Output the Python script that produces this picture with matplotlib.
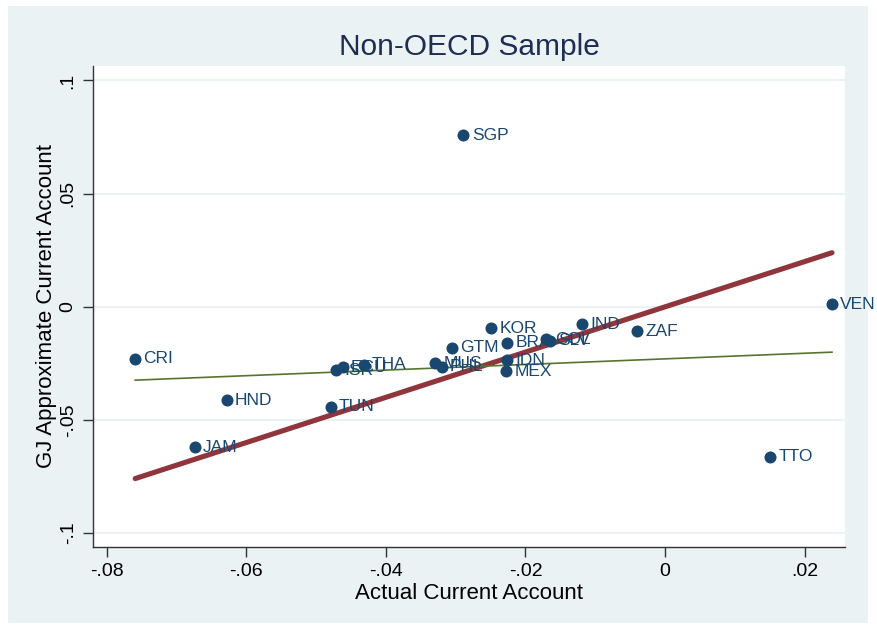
import numpy as np
import matplotlib.pyplot as plt
from matplotlib.patches import Rectangle

plt.rcParams['font.family'] = ['Liberation Sans', 'DejaVu Sans']

# country codes and values
countries = ['CRI', 'HND', 'JAM', 'TUN', 'ISR', 'ECU', 'THA', 'MUS', 'PHL', 'GTM',
             'SGP', 'KOR', 'BRA', 'IDN', 'MEX', 'COL', 'SLV', 'IND', 'ZAF', 'TTO', 'VEN']
actual_ca = [-0.0759, -0.0628, -0.0674, -0.0479, -0.0472, -0.0462, -0.0432, -0.0329,
             -0.0320, -0.0305, -0.0289, -0.0249, -0.0226, -0.0226, -0.0228, -0.0170,
             -0.0165, -0.0119, -0.0040, 0.0150, 0.0239]
gj_ca = [-0.0229, -0.0412, -0.0620, -0.0442, -0.0281, -0.0268, -0.0256, -0.0249,
         -0.0265, -0.0181, 0.0758, -0.0095, -0.0158, -0.0236, -0.0284, -0.0144,
         -0.0150, -0.0077, -0.0107, -0.0662, 0.0012]

# fitted line
fit_slope = 0.124
fit_intercept = -0.0230

xticks = [-0.08, -0.06, -0.04, -0.02, 0, 0.02]
xticklabels = ['-.08', '-.06', '-.04', '-.02', '0', '.02']
yticks = [-0.1, -0.05, 0, 0.05, 0.1]
yticklabels = ['-.1', '-.05', '0', '.05', '.1']

navy = '#1a476f'
maroon = '#90353b'
olive = '#55752f'
bg = '#eaf2f3'

W, H = 877, 628
fig = plt.figure(figsize=(W / 100, H / 100), dpi=100)
fig.patch.set_facecolor('white')
bgrect = Rectangle((8 / W, 1 - 623 / H), 860 / W, 617 / H,
                   transform=fig.transFigure, facecolor=bg,
                   edgecolor='none', zorder=-10)
fig.add_artist(bgrect)

ax = fig.add_axes([93.3 / W, 1 - 546.7 / H, (845 - 93.3) / W, (546.7 - 66) / H])
ax.set_zorder(1)
ax.set_facecolor('white')

x = np.array(actual_ca)
y = np.array(gj_ca)
xr = np.array([x.min(), x.max()])

for yt in yticks:
    ax.axhline(yt, color=bg, lw=1.5, zorder=1)

ax.plot(xr, xr, color=maroon, lw=3.7, solid_capstyle='round', zorder=3)
ax.plot(xr, fit_intercept + fit_slope * xr, color=olive, lw=1.2, zorder=3)
ax.scatter(x, y, s=75, color=navy, zorder=4, linewidths=0)
for c, xi, yi in zip(countries, x, y):
    ax.annotate(c, (xi, yi), xytext=(6, 0), textcoords='offset points',
                va='center', ha='left', fontsize=12.5, color=navy, zorder=5,
                annotation_clip=False)

ax.set_xlim(-0.0819, 0.02576)
ax.set_ylim(-0.106, 0.1064)
ax.set_xticks(xticks)
ax.set_xticklabels(xticklabels, fontsize=14)
ax.set_yticks(yticks)
ax.set_yticklabels(yticklabels, fontsize=14, rotation=90, va='center')
ax.tick_params(axis='both', direction='out', length=7, width=1, color='#333333', pad=5)

for s in ['top', 'right']:
    ax.spines[s].set_visible(False)
for s in ['left', 'bottom']:
    ax.spines[s].set_color('#333333')
    ax.spines[s].set_linewidth(1)

ax.set_xlabel('Actual Current Account', fontsize=16, labelpad=2)
ax.set_ylabel('GJ Approximate Current Account', fontsize=16, labelpad=2)
ax.set_title('Non-OECD Sample', fontsize=21.5, color='#1e2d53', pad=8)

fig.savefig('out.png', dpi=100, facecolor=fig.get_facecolor())
